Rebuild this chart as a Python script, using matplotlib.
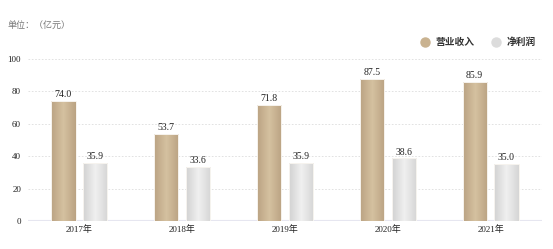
import matplotlib
matplotlib.use("Agg")
import matplotlib.pyplot as plt
import numpy as np
from matplotlib.colors import LinearSegmentedColormap
from matplotlib.lines import Line2D

plt.rcParams['font.family'] = ['Liberation Serif', 'Noto Sans CJK SC', 'DejaVu Sans']

years = ['2017年', '2018年', '2019年', '2020年', '2021年']
revenue = [74.0, 53.7, 71.8, 87.5, 85.9]
profit = [35.9, 33.6, 35.9, 38.6, 35.0]
series_names = ['营业收入', '净利润']
yticks = [0, 20, 40, 60, 80, 100]

fig = plt.figure(figsize=(5.53, 2.49), dpi=100)
ax = fig.add_axes([0.0506, 0.1124, 0.9294, 0.6506])

x = np.arange(len(years))
w = 0.235
off = 0.155

tan_cmap = LinearSegmentedColormap.from_list('tan', ['#bba383', '#d5c1a0', '#bba383'])
gray_cmap = LinearSegmentedColormap.from_list('gry', ['#d2d2d2', '#f0f0f0', '#d6d6d6'])
grad = np.linspace(0, 1, 64).reshape(1, -1)

def gradient_bars(bars, cmap):
    for b in bars:
        bx, by, bw, bh = b.get_x(), b.get_y(), b.get_width(), b.get_height()
        im = ax.imshow(grad, cmap=cmap, extent=(bx, bx + bw, by, by + bh),
                       aspect='auto', zorder=2, interpolation='bilinear')
        im.set_clip_path(b)
        b.set_facecolor('none')
        b.set_edgecolor('#f7f4ef')
        b.set_linewidth(0.7)
        b.set_zorder(3)

b1 = ax.bar(x - off, revenue, w)
b2 = ax.bar(x + off, profit, w)
gradient_bars(b1, tan_cmap)
gradient_bars(b2, gray_cmap)

for bars, vals in ((b1, revenue), (b2, profit)):
    for b, v in zip(bars, vals):
        ax.text(b.get_x() + b.get_width() / 2, v + 1.2, f'{v:.1f}',
                ha='center', va='bottom', fontsize=7, color='#222222')

ax.set_xlim(-0.5, len(years) - 0.5)
ax.set_ylim(0, 100)
ax.set_yticks(yticks)
ax.set_yticklabels([str(t) for t in yticks], fontsize=6.5, color='#222222')
ax.set_xticks(x)
ax.set_xticklabels(years, fontsize=6.5, color='#222222')
ax.tick_params(length=0, pad=3)
ax.tick_params(axis='y', pad=5)

for t in yticks[1:]:
    ax.axhline(t, color='#dddddd', lw=0.6, ls=(0, (2, 2)), zorder=0)
ax.axhline(0, color='#e6e6f0', lw=1.5, zorder=1)
for s in ax.spines.values():
    s.set_visible(False)

fig.text(0.014, 0.9, '单位：（亿元）', fontsize=6.5, color='#777777',
         family=['Noto Sans CJK SC'], va='center')

handles = [Line2D([], [], marker='o', ls='none', markersize=6.5, color='#c9b290'),
           Line2D([], [], marker='o', ls='none', markersize=6.5, color='#dcdcdc')]
fig.legend(handles, series_names, loc='center right', bbox_to_anchor=(0.985, 0.83),
           ncol=2, frameon=False, handletextpad=0.1, columnspacing=1.2,
           prop={'family': 'Noto Sans CJK SC', 'size': 7, 'weight': 'bold'},
           labelcolor='#333333')

fig.savefig('out.png', dpi=100)
